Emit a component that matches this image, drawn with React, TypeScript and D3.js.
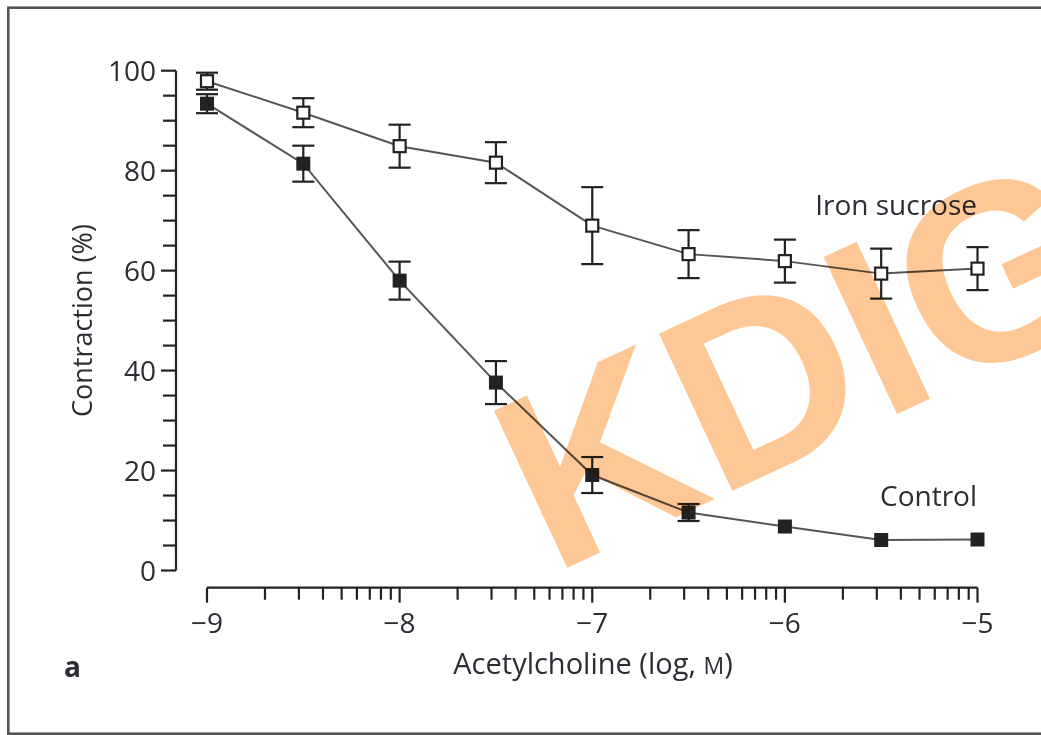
import React from "react";
import * as d3 from "d3";

const logConc = [-9, -8.5, -8, -7.5, -7, -6.5, -6, -5.5, -5];
const ironMean = [97.9, 91.6, 84.9, 81.6, 69.0, 63.3, 61.9, 59.4, 60.4];
const ironErr = [1.7, 2.9, 4.3, 4.1, 7.7, 4.8, 4.3, 5.0, 4.3];
const controlMean = [93.4, 81.4, 58.0, 37.6, 19.1, 11.6, 8.8, 6.1, 6.2];
const controlErr = [1.9, 3.6, 3.8, 4.3, 3.6, 1.7, 0, 0, 0];
const xMajorTicks = [-9, -8, -7, -6, -5];
const yMajorTicks = [0, 20, 40, 60, 80, 100];

const W = 1041;
const H = 735;
const FONT = "'Open Sans', 'Noto Sans', sans-serif";
const TXT = "#2c2c34";

export default function App() {
  const x = d3.scaleLinear().domain([-9, -5]).range([207, 977.5]);
  const y = d3.scaleLinear().domain([0, 100]).range([570.5, 70.7]);
  const axisY = 587.7;
  const axisX = 176;

  const xMinor: number[] = [];
  for (let n = -9; n < -5; n++) {
    for (let k = 2; k <= 9; k++) xMinor.push(n + Math.log10(k));
  }
  const yMinor = d3.range(0, 101, 5).filter((v) => v % 20 !== 0);

  const line = d3
    .line<[number, number]>()
    .x((d) => x(d[0]))
    .y((d) => y(d[1]));

  const ironPts = logConc.map((c, i) => [c, ironMean[i]] as [number, number]);
  const ctrlPts = logConc.map((c, i) => [c, controlMean[i]] as [number, number]);

  const capW = 22;
  const sq = 12;

  const errBars = (means: number[], errs: number[], key: string) =>
    logConc.map((c, i) => {
      if (!errs[i]) return null;
      const cx = x(c);
      const y1 = y(means[i] + errs[i]);
      const y2 = y(means[i] - errs[i]);
      return (
        <g key={key + i} stroke="#222" strokeWidth={2.2} fill="none">
          <line x1={cx} x2={cx} y1={y1} y2={y2} />
          <line x1={cx - capW / 2} x2={cx + capW / 2} y1={y1} y2={y1} />
          <line x1={cx - capW / 2} x2={cx + capW / 2} y1={y2} y2={y2} />
        </g>
      );
    });

  return (
    <svg
      width={W}
      height={H}
      style={{ position: "absolute", left: 0, top: 0, background: "#fff" }}
    >
      <rect x={0} y={0} width={W} height={H} fill="#fff" />
      {/* frame */}
      <rect x={8.3} y={7.7} width={1100} height={726} fill="none" stroke="#555" strokeWidth={2.6} />

      {/* y axis */}
      <g stroke="#222" strokeWidth={2.2}>
        <line x1={axisX} x2={axisX} y1={y(100)} y2={y(0)} />
        {yMajorTicks.map((t) => (
          <line key={"ym" + t} x1={axisX - 15} x2={axisX} y1={y(t)} y2={y(t)} />
        ))}
        {yMinor.map((t) => (
          <line key={"yn" + t} x1={axisX - 13} x2={axisX} y1={y(t)} y2={y(t)} />
        ))}
      </g>
      {yMajorTicks.map((t) => (
        <text
          key={"yl" + t}
          x={axisX - 20}
          y={y(t) + 10}
          textAnchor="end"
          fontFamily={FONT}
          fontSize={28}
          fill={TXT}
        >
          {t}
        </text>
      ))}
      <text
        transform={`translate(92, ${(y(0) + y(100)) / 2}) rotate(-90)`}
        textAnchor="middle"
        fontFamily={FONT}
        fontSize={27}
        fill={TXT}
      >
        Contraction (%)
      </text>

      {/* x axis */}
      <g stroke="#222" strokeWidth={2.2}>
        <line x1={x(-9)} x2={x(-5)} y1={axisY} y2={axisY} />
        {xMajorTicks.map((t) => (
          <line key={"xm" + t} x1={x(t)} x2={x(t)} y1={axisY} y2={axisY + 15} />
        ))}
        {xMinor.map((t, i) => (
          <line key={"xn" + i} x1={x(t)} x2={x(t)} y1={axisY} y2={axisY + 12} />
        ))}
      </g>
      {xMajorTicks.map((t) => (
        <text
          key={"xl" + t}
          x={x(t)}
          y={633}
          textAnchor="middle"
          fontFamily={FONT}
          fontSize={28}
          fill={TXT}
        >
          {"\u2212" + Math.abs(t)}
        </text>
      ))}
      <text x={593} y={674} textAnchor="middle" fontFamily={FONT} fontSize={29} fill={TXT}>
        Acetylcholine (log, <tspan fontSize={23}>M</tspan>)
      </text>
      <text x={64} y={677} fontFamily={FONT} fontSize={28} fontWeight="bold" fill={TXT}>
        a
      </text>

      {/* lines */}
      <path d={line(ironPts) || ""} fill="none" stroke="#555" strokeWidth={2} />
      <path d={line(ctrlPts) || ""} fill="none" stroke="#555" strokeWidth={2} />

      {errBars(ironMean, ironErr, "ie")}
      {errBars(controlMean, controlErr, "ce")}

      {ironPts.map((p, i) => (
        <rect
          key={"is" + i}
          x={x(p[0]) - sq / 2}
          y={y(p[1]) - sq / 2}
          width={sq}
          height={sq}
          fill="#fff"
          stroke="#222"
          strokeWidth={2.2}
        />
      ))}
      {ctrlPts.map((p, i) => (
        <rect
          key={"cs" + i}
          x={x(p[0]) - (sq + 2) / 2}
          y={y(p[1]) - (sq + 2) / 2}
          width={sq + 2}
          height={sq + 2}
          fill="#222"
        />
      ))}

      {/* series labels */}
      <text x={977} y={215} textAnchor="end" fontFamily={FONT} fontSize={28} fill={TXT}>
        Iron sucrose
      </text>
      <text x={977} y={506} textAnchor="end" fontFamily={FONT} fontSize={28} fill={TXT}>
        Control
      </text>

      {/* watermark */}
      <text
        transform="translate(552, 575) rotate(-25)"
        fontFamily="'Liberation Sans', Arial, sans-serif"
        fontWeight="bold"
        fontSize={252}
        fill="#fdc896"
        style={{ mixBlendMode: "multiply" }}
      >
        KDIGO
      </text>
    </svg>
  );
}
